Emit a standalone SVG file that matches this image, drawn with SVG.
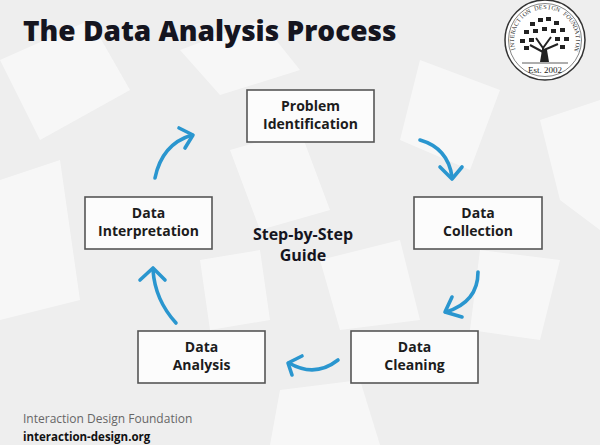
<svg xmlns="http://www.w3.org/2000/svg" width="600" height="445" viewBox="0 0 600 445">
<defs>
<style>
.bg{fill:#eeeeee}
.deco{fill:#ffffff;opacity:0.55}
.box{fill:#fcfcfc;stroke:#555555;stroke-width:1.6}
.lbl{font-family:"Open Sans","Noto Sans",sans-serif;font-weight:700;font-size:14px;fill:#1c1c1c;text-anchor:middle}
.arc{fill:none;stroke:#2a96cf;stroke-width:3.6;stroke-linecap:round;stroke-linejoin:round}
.title{font-family:"Open Sans","Noto Sans",sans-serif;font-weight:800;font-size:28px;fill:#15151f}
.center{font-family:"Open Sans","Noto Sans",sans-serif;font-weight:700;font-size:16px;fill:#15151f;text-anchor:middle}
.foot1{font-family:"Open Sans","Noto Sans",sans-serif;font-size:12px;fill:#666666}
.foot2{font-family:"Open Sans","Noto Sans",sans-serif;font-weight:700;font-size:11.5px;fill:#111111}
.lc{font-family:"Liberation Serif",serif;font-size:6.2px;fill:#333333;text-anchor:middle}
.est{font-family:"Liberation Serif",serif;font-size:9px;fill:#222222;text-anchor:middle}
.leaf{fill:#222222}
</style>
</defs>
<rect class="bg" x="0" y="0" width="600" height="445"/>
<g id="background">
<polygon class="deco" points="0,60 90,20 130,90 40,140"/>
<polygon class="deco" points="180,50 260,20 300,70 220,95"/>
<polygon class="deco" points="420,60 500,90 470,170 400,140"/>
<polygon class="deco" points="540,120 600,100 600,230 560,200"/>
<polygon class="deco" points="0,180 60,160 80,300 0,320"/>
<polygon class="deco" points="230,150 300,130 330,210 260,230"/>
<polygon class="deco" points="320,260 400,240 420,320 340,330"/>
<polygon class="deco" points="480,250 560,260 540,340 470,330"/>
<polygon class="deco" points="200,260 260,250 270,320 210,330"/>
<polygon class="deco" points="280,390 360,380 380,445 270,445"/>
</g>
<g id="logo">
<circle cx="545" cy="40" r="40" fill="#ffffff" stroke="#333333" stroke-width="1.5"/>
<circle cx="545" cy="40" r="36.5" fill="none" stroke="#333333" stroke-width="0.6"/>
<text class="lc" x="545" y="9" transform="rotate(-106.4 545 40)">I</text>
<text class="lc" x="545" y="9" transform="rotate(-98.8 545 40)">N</text>
<text class="lc" x="545" y="9" transform="rotate(-91.2 545 40)">T</text>
<text class="lc" x="545" y="9" transform="rotate(-83.6 545 40)">E</text>
<text class="lc" x="545" y="9" transform="rotate(-76 545 40)">R</text>
<text class="lc" x="545" y="9" transform="rotate(-68.4 545 40)">A</text>
<text class="lc" x="545" y="9" transform="rotate(-60.8 545 40)">C</text>
<text class="lc" x="545" y="9" transform="rotate(-53.2 545 40)">T</text>
<text class="lc" x="545" y="9" transform="rotate(-45.6 545 40)">I</text>
<text class="lc" x="545" y="9" transform="rotate(-38 545 40)">O</text>
<text class="lc" x="545" y="9" transform="rotate(-30.4 545 40)">N</text>
<text class="lc" x="545" y="9" transform="rotate(-15.2 545 40)">D</text>
<text class="lc" x="545" y="9" transform="rotate(-7.6 545 40)">E</text>
<text class="lc" x="545" y="9">S</text>
<text class="lc" x="545" y="9" transform="rotate(7.6 545 40)">I</text>
<text class="lc" x="545" y="9" transform="rotate(15.2 545 40)">G</text>
<text class="lc" x="545" y="9" transform="rotate(22.8 545 40)">N</text>
<text class="lc" x="545" y="9" transform="rotate(38 545 40)">F</text>
<text class="lc" x="545" y="9" transform="rotate(45.6 545 40)">O</text>
<text class="lc" x="545" y="9" transform="rotate(53.2 545 40)">U</text>
<text class="lc" x="545" y="9" transform="rotate(60.8 545 40)">N</text>
<text class="lc" x="545" y="9" transform="rotate(68.4 545 40)">D</text>
<text class="lc" x="545" y="9" transform="rotate(76 545 40)">A</text>
<text class="lc" x="545" y="9" transform="rotate(83.6 545 40)">T</text>
<text class="lc" x="545" y="9" transform="rotate(91.2 545 40)">I</text>
<text class="lc" x="545" y="9" transform="rotate(98.8 545 40)">O</text>
<text class="lc" x="545" y="9" transform="rotate(106.4 545 40)">N</text>
<path d="M543,62 L543,48 L536,38 M543,48 L551,37 M543,52 L530,45 M544,50 L558,44" fill="none" stroke="#222" stroke-width="2"/>
<path d="M540,62 L542,50 L547,50 L549,62 Z" class="leaf"/>
<rect class="leaf" x="530" y="22" width="5" height="4"/>
<rect class="leaf" x="538" y="18" width="5" height="4"/>
<rect class="leaf" x="546" y="17" width="5" height="4"/>
<rect class="leaf" x="554" y="21" width="5" height="4"/>
<rect class="leaf" x="524" y="30" width="5" height="4"/>
<rect class="leaf" x="533" y="29" width="5" height="4"/>
<rect class="leaf" x="542" y="27" width="5" height="4"/>
<rect class="leaf" x="551" y="29" width="5" height="4"/>
<rect class="leaf" x="560" y="28" width="5" height="4"/>
<rect class="leaf" x="520" y="39" width="5" height="4"/>
<rect class="leaf" x="529" y="38" width="5" height="4"/>
<rect class="leaf" x="555" y="37" width="5" height="4"/>
<rect class="leaf" x="564" y="37" width="5" height="4"/>
<rect class="leaf" x="524" y="46" width="5" height="4"/>
<rect class="leaf" x="560" y="45" width="5" height="4"/>
<line x1="522" y1="63" x2="568" y2="63" stroke="#333" stroke-width="0.8"/>
<text class="est" x="545" y="73">Est. 2002</text>
</g>
<text class="title" x="23" y="41">The Data Analysis Process</text>
<g id="connectors">
<path class="arc" d="M420,140 Q448,148 452,177"/>
<path class="arc" d="M440,167 L452,179 L462,167"/>
<path class="arc" d="M478,272 Q478,302 446,312"/>
<path class="arc" d="M452,297 L445,312 L462,317"/>
<path class="arc" d="M338,360 Q315,378 289,363"/>
<path class="arc" d="M302,356 L288,363 L292,375"/>
<path class="arc" d="M176,323 Q155,300 153,270"/>
<path class="arc" d="M140,280 L153,268 L165,280"/>
<path class="arc" d="M155,178 Q162,144 192,135"/>
<path class="arc" d="M179,128 L193,135 L185,148"/>
</g>
<g id="node-problem">
<rect class="box" x="247" y="90" width="127" height="52"/>
<text class="lbl" x="310.5" y="111">Problem</text>
<text class="lbl" x="310.5" y="129">Identification</text>
</g>
<g id="node-collection">
<rect class="box" x="414" y="197" width="128" height="52"/>
<text class="lbl" x="478" y="218">Data</text>
<text class="lbl" x="478" y="236">Collection</text>
</g>
<g id="node-cleaning">
<rect class="box" x="351" y="331" width="127" height="52"/>
<text class="lbl" x="414.5" y="352">Data</text>
<text class="lbl" x="414.5" y="370">Cleaning</text>
</g>
<g id="node-analysis">
<rect class="box" x="138" y="331" width="127" height="52"/>
<text class="lbl" x="201.5" y="352">Data</text>
<text class="lbl" x="201.5" y="370">Analysis</text>
</g>
<g id="node-interpretation">
<rect class="box" x="85" y="197" width="127" height="52"/>
<text class="lbl" x="148.5" y="218">Data</text>
<text class="lbl" x="148.5" y="236">Interpretation</text>
</g>
<g id="center-label">
<text class="center" x="303" y="240">Step-by-Step</text>
<text class="center" x="303" y="261">Guide</text>
</g>
<text class="foot1" x="23" y="423">Interaction Design Foundation</text>
<text class="foot2" x="23" y="441">interaction-design.org</text>
</svg>
